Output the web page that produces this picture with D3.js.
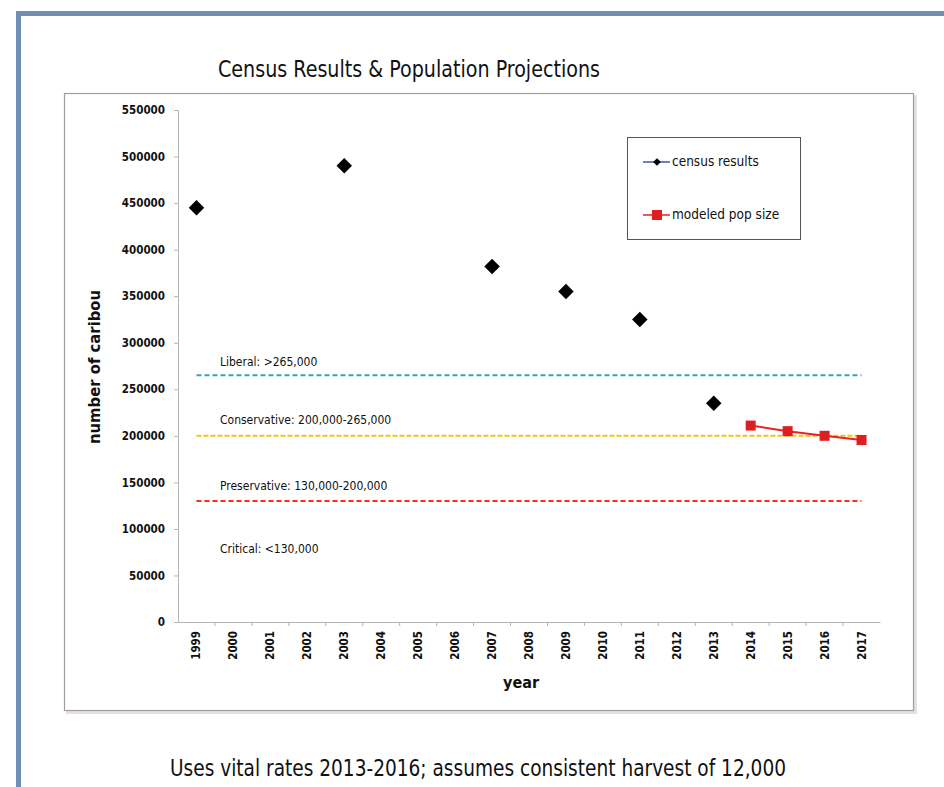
<!DOCTYPE html>
<html>
<head>
<meta charset="utf-8">
<script src="https://cdn.jsdelivr.net/npm/d3@7"></script>
<style>
  html, body { margin: 0; padding: 0; background: #fff; }
  svg { display: block; }
</style>
</head>
<body>
<svg id="chart" width="944" height="787"></svg>
<script>
// ---- data ----
const years = ["1999","2000","2001","2002","2003","2004","2005","2006","2007","2008",
               "2009","2010","2011","2012","2013","2014","2015","2016","2017"];
const censusYears = ["1999","2003","2007","2009","2011","2013"];
const censusValues = [445000, 490000, 382000, 355000, 325000, 235000];
const modelYears = ["2014","2015","2016","2017"];
const modelValues = [211000, 205000, 200000, 195500];
const yTicks = [0, 50000, 100000, 150000, 200000, 250000, 300000, 350000, 400000, 450000, 500000, 550000];
const thresholdNames = ["Liberal: >265,000", "Conservative: 200,000-265,000", "Preservative: 130,000-200,000", "Critical: <130,000"];
const thresholdValues = [265000, 200000, 130000, null];
const thresholdLabelValues = [279000, 217000, 146000, 78000];
const thresholdColors = ["#3aa2b8", "#f2c21a", "#ff2a1a", null];
const legendNames = ["census results", "modeled pop size"];

// ---- layout ----
const svg = d3.select("#chart");
const narrow = "'Liberation Sans Narrow', 'DejaVu Sans Condensed', 'Roboto Condensed', sans-serif";
const tickFont = "'DejaVu Sans Condensed', 'Liberation Sans Narrow', sans-serif";

// outer frame
svg.append("path")
  .attr("d", "M18.5,787 L18.5,13.5 L944,13.5")
  .attr("fill", "none").attr("stroke", "#6f90b2").attr("stroke-width", 5);

// chart box with shadow
svg.append("rect").attr("x", 66).attr("y", 95).attr("width", 851).attr("height", 619)
  .attr("fill", "#e4e0de");
svg.append("rect").attr("x", 64.5).attr("y", 93.5).attr("width", 849).attr("height", 617)
  .attr("fill", "#fff").attr("stroke", "#a39c9a").attr("stroke-width", 1.2);

// title
svg.append("text").attr("x", 409).attr("y", 77).attr("text-anchor", "middle")
  .attr("font-family", narrow).attr("font-size", 23).attr("fill", "#111")
  .attr("textLength", 382).attr("lengthAdjust", "spacingAndGlyphs")
  .text("Census Results & Population Projections");

// caption
svg.append("text").attr("x", 478).attr("y", 776).attr("text-anchor", "middle")
  .attr("font-family", narrow).attr("font-size", 23).attr("fill", "#111")
  .attr("textLength", 616).attr("lengthAdjust", "spacingAndGlyphs")
  .text("Uses vital rates 2013-2016; assumes consistent harvest of 12,000");

// scales
const x = d3.scaleBand().domain(years).range([178, 880]);
const y = d3.scaleLinear().domain([0, 550000]).range([622, 110]);
const cx = d => x(d) + x.bandwidth() / 2;

// y axis
const yAxis = svg.append("g").attr("transform", "translate(178,0)")
  .call(d3.axisLeft(y).tickValues(yTicks).tickSize(4).tickPadding(9).tickFormat(d3.format("d")));
yAxis.select(".domain").attr("stroke", "#b8b2b0");
yAxis.selectAll(".tick line").attr("stroke", "#b8b2b0");
yAxis.selectAll(".tick text").attr("font-family", tickFont).attr("font-weight", "bold")
  .attr("font-size", 11.5).attr("fill", "#111");

// x axis
const xAxis = svg.append("g").attr("transform", "translate(0,622)")
  .call(d3.axisBottom(x).tickSize(0).tickPadding(0));
xAxis.select(".domain").attr("stroke", "#b8b2b0");
xAxis.selectAll(".tick text")
  .attr("font-family", tickFont).attr("font-weight", "bold").attr("font-size", 11.5).attr("fill", "#111")
  .attr("text-anchor", "end").attr("transform", "translate(4,9) rotate(-90)").attr("dy", 0).attr("y", 0);
// tick marks between categories
svg.append("g").selectAll("line").data(years.slice(1)).join("line")
  .attr("x1", d => x(d)).attr("x2", d => x(d)).attr("y1", 622).attr("y2", 626)
  .attr("stroke", "#b8b2b0");

// axis titles
svg.append("text").attr("transform", "translate(100,367) rotate(-90)").attr("text-anchor", "middle")
  .attr("font-family", tickFont).attr("font-weight", "bold").attr("font-size", 16.5).attr("fill", "#111")
  .text("number of caribou");
svg.append("text").attr("x", 521).attr("y", 688).attr("text-anchor", "middle")
  .attr("font-family", tickFont).attr("font-weight", "bold").attr("font-size", 16).attr("fill", "#111")
  .text("year");

// threshold lines
thresholdValues.forEach((v, i) => {
  if (v !== null) {
    svg.append("line").attr("x1", cx(years[0])).attr("x2", cx(years[years.length - 1]))
      .attr("y1", y(v)).attr("y2", y(v))
      .attr("stroke", thresholdColors[i]).attr("stroke-width", 2)
      .attr("stroke-dasharray", i === 1 ? "5,2" : "5,3");
  }
  svg.append("text").attr("x", 220).attr("y", y(thresholdLabelValues[i]) + 4)
    .attr("font-family", narrow).attr("font-size", 12).attr("fill", "#111")
    .text(thresholdNames[i]);
});

// census diamonds
svg.append("g").selectAll("path").data(censusYears).join("path")
  .attr("transform", (d, i) => `translate(${cx(d)},${y(censusValues[i])}) rotate(45)`)
  .attr("d", d3.symbol().type(d3.symbolSquare).size(120)())
  .attr("fill", "#000");

// modeled line + squares
const line = d3.line().x((d, i) => cx(modelYears[i])).y(d => y(d));
svg.append("path").datum(modelValues).attr("d", line)
  .attr("fill", "none").attr("stroke", "#e8231e").attr("stroke-width", 2);
svg.append("g").selectAll("rect").data(modelYears).join("rect")
  .attr("x", d => cx(d) - 5).attr("y", (d, i) => y(modelValues[i]) - 5)
  .attr("width", 10).attr("height", 10).attr("fill", "#de1f22");

// legend
svg.append("rect").attr("x", 627.5).attr("y", 137.5).attr("width", 173).attr("height", 102)
  .attr("fill", "#fff").attr("stroke", "#555").attr("stroke-width", 1);
const lg = svg.append("g");
// census results entry
lg.append("line").attr("x1", 643).attr("x2", 670).attr("y1", 162).attr("y2", 162)
  .attr("stroke", "#3a5aa8").attr("stroke-width", 1.5);
lg.append("path").attr("transform", "translate(657,162) rotate(45)")
  .attr("d", d3.symbol().type(d3.symbolSquare).size(30)()).attr("fill", "#000");
lg.append("text").attr("x", 672).attr("y", 166).attr("font-family", narrow).attr("font-size", 13.5)
  .attr("fill", "#111").text(legendNames[0]);
// modeled entry
lg.append("line").attr("x1", 643).attr("x2", 670).attr("y1", 215).attr("y2", 215)
  .attr("stroke", "#e8231e").attr("stroke-width", 1.5);
lg.append("rect").attr("x", 652).attr("y", 210).attr("width", 10).attr("height", 10).attr("fill", "#de1f22");
lg.append("text").attr("x", 672).attr("y", 219).attr("font-family", narrow).attr("font-size", 13.5)
  .attr("fill", "#111").text(legendNames[1]);
</script>
</body>
</html>
